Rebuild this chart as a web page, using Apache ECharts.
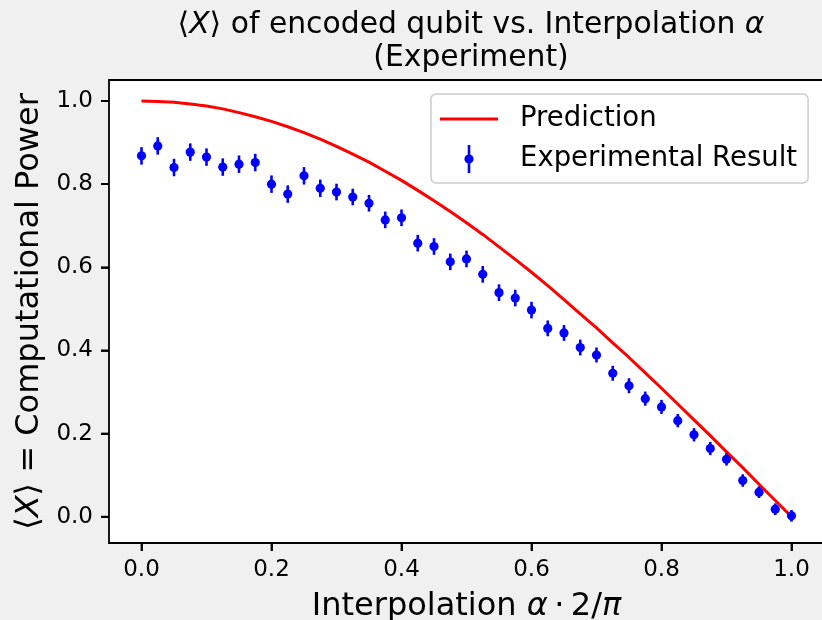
<!DOCTYPE html>
<html>
<head>
<meta charset="utf-8">
<script src="https://cdn.jsdelivr.net/npm/echarts@6/dist/echarts.min.js"></script>
<style>html,body{margin:0;padding:0;background:#f0f0f0;}#c{width:822px;height:620px;}</style>
</head>
<body>
<div id="c"></div>
<script>
// ---- data ----
const alphaValues = [0,0.025,0.05,0.075,0.1,0.125,0.15,0.175,0.2,0.225,0.25,0.275,0.3,0.325,0.35,0.375,0.4,0.425,0.45,0.475,0.5,0.525,0.55,0.575,0.6,0.625,0.65,0.675,0.7,0.725,0.75,0.775,0.8,0.825,0.85,0.875,0.9,0.925,0.95,0.975,1.0];
const predictionValues = [1.000,0.999,0.997,0.993,0.988,0.981,0.972,0.962,0.951,0.938,0.924,0.908,0.891,0.872,0.853,0.831,0.809,0.785,0.760,0.734,0.707,0.679,0.649,0.619,0.588,0.556,0.522,0.488,0.454,0.418,0.383,0.346,0.309,0.271,0.233,0.195,0.156,0.118,0.078,0.039,0.000];
const experimentValues = [0.868,0.892,0.840,0.877,0.865,0.841,0.848,0.852,0.800,0.776,0.820,0.790,0.781,0.769,0.754,0.714,0.719,0.658,0.650,0.613,0.620,0.583,0.539,0.526,0.497,0.453,0.442,0.407,0.389,0.345,0.315,0.284,0.264,0.231,0.197,0.164,0.138,0.087,0.059,0.018,0.002];
const experimentErrors = [0.021,0.021,0.021,0.021,0.021,0.021,0.021,0.021,0.021,0.021,0.021,0.021,0.020,0.020,0.020,0.020,0.020,0.020,0.020,0.020,0.020,0.020,0.020,0.020,0.020,0.019,0.019,0.019,0.018,0.018,0.018,0.017,0.017,0.016,0.016,0.016,0.015,0.015,0.014,0.014,0.014];
const xTicks = [0,0.2,0.4,0.6,0.8,1.0];
const yTicks = [0,0.2,0.4,0.6,0.8,1.0];

const X_MIN = -0.05, X_MAX = 1.05, Y_MIN = -0.0633, Y_MAX = 1.0505;
const FONT = 'DejaVu Sans';
const chart = echarts.init(document.getElementById('c'), null, {renderer:'canvas'});

const predData = alphaValues.map((a,i)=>[a, predictionValues[i]]);
const expData = alphaValues.map((a,i)=>[a, experimentValues[i]]);
const errData = alphaValues.map((a,i)=>[a, experimentValues[i]-experimentErrors[i], experimentValues[i]+experimentErrors[i]]);

const TICK_LEN = 8;
const tickStyle = {stroke:'#000', lineWidth:1.8};

const option = {
  backgroundColor: '#f0f0f0',
  animation: false,
  textStyle: {fontFamily: FONT, color:'#000'},
  title: {
    left: 466, top: 4, textAlign: 'center',
    text: '\u27E8{i|X}\u27E9 of encoded qubit vs. Interpolation {i|\u03B1}\n(Experiment)',
    textStyle: {fontFamily: FONT, fontSize: 29.8, fontWeight: 'normal', color:'#000', lineHeight: 33,
      rich: {i: {fontStyle:'italic', fontFamily: FONT, fontSize: 29.8, color:'#000', lineHeight: 33}}}
  },
  legend: {
    left: 431, top: 94, orient: 'vertical',
    padding: [11, 11, 10, 9],
    itemWidth: 58, itemHeight: 28, itemGap: 12,
    backgroundColor: 'rgba(255,255,255,0.8)',
    borderColor: '#cccccc', borderWidth: 1.5, borderRadius: 5,
    textStyle: {fontFamily: FONT, fontSize: 27.5, color:'#000', lineHeight: 28, padding:[0,0,0,17]},
    data: [
      {name: 'Prediction', icon: 'path://M0,0H58V3.2H0Z'},
      {name: 'Experimental Result', icon: 'path://M-1.3,0H1.3V28H-1.3Z M0,9.4A4.6,4.6 0 1 1 0,18.6A4.6,4.6 0 1 1 0,9.4Z'}
    ]
  },
  grid: {
    left: 109, top: 80, right: -2, bottom: 77,
    containLabel: false, outerBoundsMode: 'none',
    show: true, backgroundColor: '#ffffff', borderWidth: 0, borderColor: 'rgba(0,0,0,0)'
  },
  xAxis: [{
    type: 'value', min: X_MIN, max: X_MAX, position: 'bottom',
    splitLine: {show:false},
    axisLine: {show:true, onZero:false, lineStyle:{color:'#000', width:1.8}},
    axisTick: {show:true, inside:false, customValues: xTicks, length: TICK_LEN, lineStyle:{color:'#000', width:1.8}},
    axisLabel: {customValues: xTicks, formatter: v=>v.toFixed(1), fontFamily: FONT, fontSize: 23, color:'#000', margin: 16},
    name: 'Interpolation {i|\u03B1}\u2009\u00B7\u20092/{i|\u03C0}',
    nameLocation: 'middle', nameGap: 48,
    nameTextStyle: {fontFamily: FONT, fontSize: 32, color:'#000', rich:{i:{fontStyle:'italic', fontFamily: FONT, fontSize: 32, color:'#000'}}}
  }, {
    type: 'value', min: X_MIN, max: X_MAX, position: 'top',
    splitLine: {show:false},
    axisLine: {show:true, onZero:false, lineStyle:{color:'#000', width:1.8}},
    axisTick: {show:false}, axisLabel: {show:false}
  }],
  yAxis: {
    type: 'value', min: Y_MIN, max: Y_MAX,
    splitLine: {show:false},
    axisLine: {show:true, onZero:false, lineStyle:{color:'#000', width:1.8}},
    axisTick: {show:true, inside:false, customValues: yTicks, length: TICK_LEN, lineStyle:{color:'#000', width:1.8}},
    axisLabel: {customValues: yTicks, formatter: v=>v.toFixed(1), fontFamily: FONT, fontSize: 23, color:'#000', margin: 16},
    name: '\u27E8{i|X}\u27E9 = Computational Power',
    nameLocation: 'middle', nameGap: 62,
    nameTextStyle: {fontFamily: FONT, fontSize: 32, color:'#000', rich:{i:{fontStyle:'italic', fontFamily: FONT, fontSize: 32, color:'#000'}}}
  },
  series: [
    {
      name: 'Prediction', type: 'line', data: predData, xAxisIndex: 0,
      showSymbol: false, symbol: 'none', color: '#ff0000',
      lineStyle: {color:'#ff0000', width: 3}, z: 2
    },
    {
      name: 'Experimental Result', type: 'custom', data: errData, color: '#0000ff', xAxisIndex: 0,
      encode: {x: 0, y: [1, 2]},
      renderItem: function(params, api){
        const p1 = api.coord([api.value(0), api.value(1)]);
        const p2 = api.coord([api.value(0), api.value(2)]);
        return {type:'line', shape:{x1:p1[0], y1:p1[1], x2:p2[0], y2:p2[1]}, style:{stroke:'#0000ff', lineWidth:2.6}};
      },
      z: 3
    },
    {
      name: 'Experimental Result', type: 'scatter', data: expData, xAxisIndex: 0,
      symbol: 'circle', symbolSize: 9.2, color: '#0000ff',
      itemStyle: {color:'#0000ff', opacity:1}, z: 4
    },
    {
      name: 'xTickMarks', type: 'custom', xAxisIndex: 0, silent: true, clip: false,
      data: xTicks.map(v=>[v, Y_MIN]),
      renderItem: function(params, api){
        const p = api.coord([api.value(0), api.value(1)]);
        return {type:'line', shape:{x1:p[0], y1:p[1], x2:p[0], y2:p[1]+TICK_LEN}, style: tickStyle};
      }, z: 5
    },
    {
      name: 'yTickMarks', type: 'custom', xAxisIndex: 0, silent: true, clip: false,
      data: yTicks.map(v=>[X_MIN, v]),
      renderItem: function(params, api){
        const p = api.coord([api.value(0), api.value(1)]);
        return {type:'line', shape:{x1:p[0]-TICK_LEN, y1:p[1], x2:p[0], y2:p[1]}, style: tickStyle};
      }, z: 5
    }
  ]
};
chart.setOption(option);
</script>
</body>
</html>
